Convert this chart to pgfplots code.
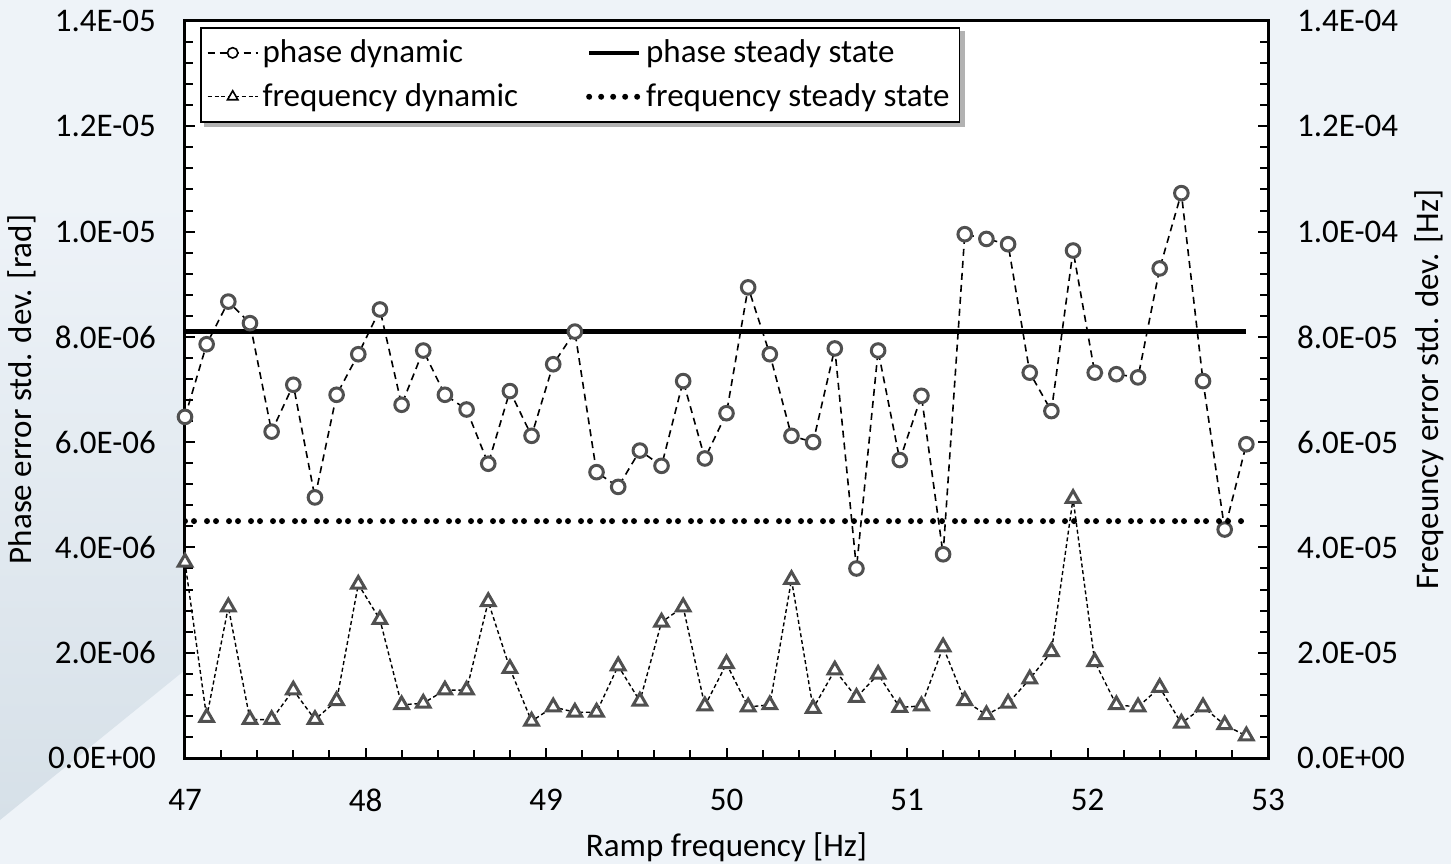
\documentclass[border=0pt]{standalone}
\usepackage{fontspec}
\setmainfont{Carlito}
\usepackage{pgfplots}
\usepackage{pgfplotstable}
\pgfplotsset{compat=1.18}
\definecolor{bgA}{RGB}{238,243,248}
\definecolor{bgB}{RGB}{214,224,232}
\definecolor{mk}{RGB}{80,80,80}

\pgfplotstableread{
x ph fr
47.00 6.48e-6 3.72e-5
47.12 7.86e-6 0.77e-5
47.24 8.67e-6 2.87e-5
47.36 8.26e-6 0.73e-5
47.48 6.20e-6 0.73e-5
47.60 7.09e-6 1.29e-5
47.72 4.95e-6 0.73e-5
47.84 6.90e-6 1.09e-5
47.96 7.67e-6 3.30e-5
48.08 8.52e-6 2.63e-5
48.20 6.71e-6 1.01e-5
48.32 7.74e-6 1.04e-5
48.44 6.90e-6 1.29e-5
48.56 6.62e-6 1.29e-5
48.68 5.59e-6 2.97e-5
48.80 6.97e-6 1.70e-5
48.92 6.12e-6 0.70e-5
49.04 7.48e-6 0.97e-5
49.16 8.10e-6 0.87e-5
49.28 5.43e-6 0.87e-5
49.40 5.15e-6 1.75e-5
49.52 5.84e-6 1.08e-5
49.64 5.55e-6 2.58e-5
49.76 7.16e-6 2.87e-5
49.88 5.69e-6 0.99e-5
50.00 6.55e-6 1.79e-5
50.12 8.94e-6 0.97e-5
50.24 7.67e-6 1.01e-5
50.36 6.12e-6 3.39e-5
50.48 6.00e-6 0.94e-5
50.60 7.78e-6 1.67e-5
50.72 3.60e-6 1.15e-5
50.84 7.74e-6 1.59e-5
50.96 5.66e-6 0.96e-5
51.08 6.88e-6 0.99e-5
51.20 3.87e-6 2.11e-5
51.32 9.95e-6 1.09e-5
51.44 9.86e-6 0.82e-5
51.56 9.76e-6 1.04e-5
51.68 7.32e-6 1.50e-5
51.80 6.59e-6 2.02e-5
51.92 9.64e-6 4.93e-5
52.04 7.32e-6 1.83e-5
52.16 7.29e-6 1.01e-5
52.28 7.23e-6 0.97e-5
52.40 9.30e-6 1.34e-5
52.52 10.73e-6 0.66e-5
52.64 7.16e-6 0.97e-5
52.76 4.34e-6 0.63e-5
52.88 5.96e-6 0.42e-5
}\datatable

\pgfplotsset{
  common/.style={
    at={(92.5pt,53pt)}, anchor=south west,
    scale only axis, width=541.5pt, height=368.5pt,
    xmin=47, xmax=53,
    tick align=inside,
    major tick length=5pt, minor tick length=4pt,
    every tick/.style={black, line width=1pt},
    axis line style={line width=1.5pt},
    tick label style={font=\fontsize{16.5}{19}\selectfont},
    label style={font=\fontsize{16.5}{19}\selectfont},
    scaled y ticks=false,
  }
}

\begin{document}
\begin{tikzpicture}
\fill[bgA] (0,0) rectangle (725.5pt,432pt);
\shade[top color=bgA, bottom color=bgB] (0pt,332pt) -- (0pt,22pt) -- (92.5pt,97pt) -- (92.5pt,332pt) -- cycle;

\begin{axis}[common,
  ymin=0, ymax=1.4e-5,
  axis background/.style={fill=white},
  xtick={47,48,49,50,51,52,53},
  xticklabels={47,48,49,50,51,52,53},
  minor x tick num=4,
  xtick pos=bottom,
  ytick={0,0.000002,0.000004,0.000006,0.000008,0.00001,0.000012,0.000014},
  yticklabels={0.0E+00,2.0E-06,4.0E-06,6.0E-06,8.0E-06,1.0E-05,1.2E-05,1.4E-05},
  minor y tick num=4,
  ytick pos=left,
  xticklabel style={yshift=-12pt},
  yticklabel style={xshift=-11pt},
  xlabel={Ramp frequency [Hz]},
  xlabel style={at={(axis description cs:0.5,0)}, anchor=center, yshift=-44.5pt},
  ylabel={Phase error std. dev. [rad]},
  ylabel style={at={(axis description cs:0,0.5)}, anchor=center, yshift=81.5pt},
]
\addplot[forget plot, only marks, mark=*, mark size=3.4pt,
  mark options={draw=mk, fill=white, line width=1.5pt}] table[x=x,y=ph]{\datatable};
\addplot[forget plot, black, line width=0.8pt, dash pattern=on 3.5pt off 2.5pt] table[x=x,y=ph]{\datatable};
\addplot[forget plot, black, line width=2.4pt] coordinates {(47,8.1e-6) (52.88,8.1e-6)};
\end{axis}

\begin{axis}[common,
  ymin=0, ymax=1.4e-4,
  axis x line=none,
  axis y line*=right,
  ytick={0,0.00002,0.00004,0.00006,0.00008,0.0001,0.00012,0.00014},
  yticklabels={0.0E+00,2.0E-05,4.0E-05,6.0E-05,8.0E-05,1.0E-04,1.2E-04,1.4E-04},
  minor y tick num=4,
  yticklabel style={xshift=11pt},
  ylabel={Freqeuncy error std. dev. [Hz]},
  ylabel style={at={(axis description cs:1,0.5)}, anchor=center, yshift=-80.5pt},
  legend columns=2,
  legend cell align=left,
  legend image code/.code={\draw[mark repeat=2,mark phase=2,#1] plot coordinates {(0pt,0pt) (12.5pt,0pt) (25pt,0pt)};},
  legend style={at={(axis description cs:0,1)}, anchor=north west, xshift=7.5pt, yshift=-3pt,
    draw=black, fill=white, line width=0.9pt,
    font=\fontsize{16.5}{19}\selectfont,
    /tikz/every even column/.append style={column sep=32pt},
    inner xsep=3pt, inner ysep=4pt, row sep=5pt},
]
\addplot[forget plot, only marks, mark=triangle*, mark size=3.9pt,
  mark options={draw=mk, fill=white, line width=1.5pt}] table[x=x,y=fr]{\datatable};
\addplot[forget plot, black, line width=0.7pt, dash pattern=on 2pt off 1.4pt] table[x=x,y=fr]{\datatable};
\addplot[forget plot, black, line width=3pt, line cap=round, dash pattern=on 0pt off 4.5pt on 0pt off 6.5pt] coordinates {(47,4.5e-5) (52.88,4.5e-5)};
% legend drop shadow
\fill[black!30] (rel axis cs:0.0175,0.8562) rectangle (rel axis cs:0.7202,0.9864);

\addlegendimage{black, line width=0.8pt, dash pattern=on 3.5pt off 2.5pt, mark=*, mark size=2.6pt, mark options={solid, draw=black, fill=white, line width=0.8pt}}
\addlegendentry{phase dynamic}
\addlegendimage{black, line width=2.2pt}
\addlegendentry{phase steady state}
\addlegendimage{black, line width=0.7pt, dash pattern=on 2pt off 1.4pt, mark=triangle*, mark size=3pt, mark options={solid, draw=black, fill=white, line width=0.8pt}}
\addlegendentry{frequency dynamic}
\addlegendimage{black, line width=3pt, line cap=round, dash pattern=on 0pt off 6pt}
\addlegendentry{frequency steady state}
\end{axis}
\pgfresetboundingbox
\useasboundingbox (0,0) rectangle (725.5pt,432pt);
\end{tikzpicture}
\end{document}
